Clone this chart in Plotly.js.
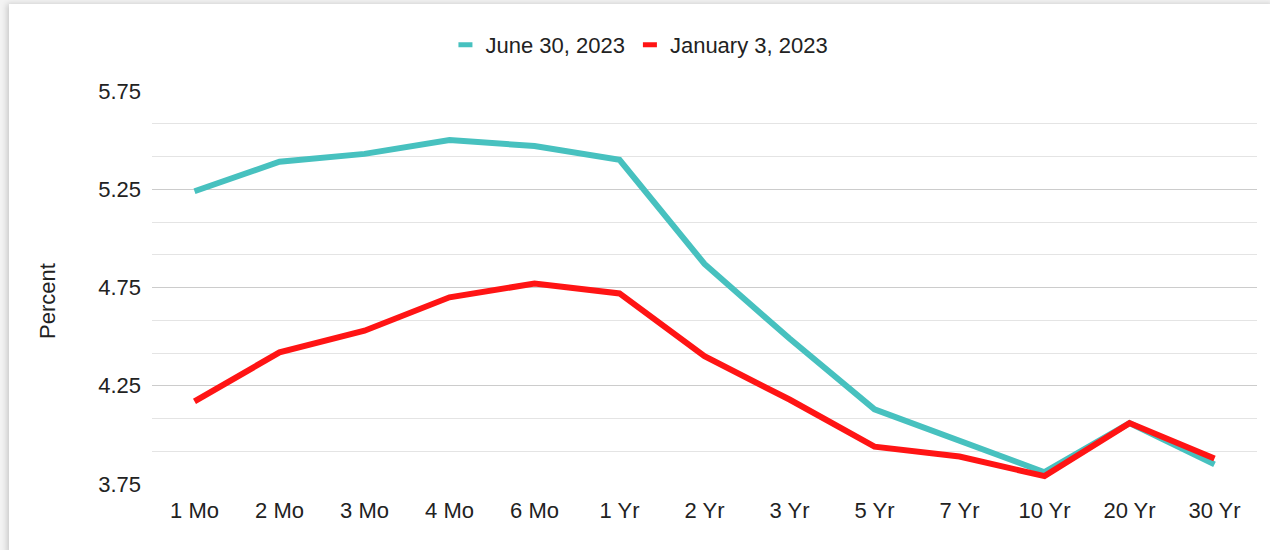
<!DOCTYPE html>
<html>
<head>
<meta charset="utf-8">
<script src="https://cdn.plot.ly/plotly-3.0.1.min.js"></script>
<style>
  html, body { margin: 0; padding: 0; background: #f3f3f3; width: 1270px; height: 550px; overflow: hidden; }
  #card { position: absolute; left: 9px; top: 4px; width: 1265px; height: 550px; background: #fff; box-shadow: -2px 0 6px rgba(0,0,0,0.18); }
  #chart { position: absolute; left: 0; top: 0; width: 1270px; height: 550px; }
</style>
</head>
<body>
<div id="card"></div>
<div id="chart"></div>
<script>
const maturities = ["1 Mo", "2 Mo", "3 Mo", "4 Mo", "6 Mo", "1 Yr", "2 Yr", "3 Yr", "5 Yr", "7 Yr", "10 Yr", "20 Yr", "30 Yr"];
const june30_2023 = [5.24, 5.39, 5.43, 5.50, 5.47, 5.40, 4.87, 4.49, 4.13, 3.97, 3.81, 4.06, 3.85];
const jan3_2023 = [4.17, 4.42, 4.53, 4.70, 4.77, 4.72, 4.40, 4.18, 3.94, 3.89, 3.79, 4.06, 3.88];
const seriesNames = ["June 30, 2023", "January 3, 2023"];
const yTickVals = [3.75, 4.25, 4.75, 5.25, 5.75];
const yTickText = ["3.75", "4.25", "4.75", "5.25", "5.75"];

const teal = "#47C1BF";
const red = "#FF1414";
const font = "Liberation Sans, Arial, sans-serif";

const traces = [
  { x: maturities, y: june30_2023, name: seriesNames[0], type: "scatter", mode: "lines",
    line: { color: teal, width: 6 }, showlegend: false, hoverinfo: "x+y" },
  { x: maturities, y: jan3_2023, name: seriesNames[1], type: "scatter", mode: "lines",
    line: { color: red, width: 6 }, showlegend: false, hoverinfo: "x+y" },
  { x: [null], y: [null], name: seriesNames[0], type: "scatter", mode: "markers",
    marker: { symbol: "line-ew", size: 10, color: teal, line: { color: teal, width: 6 } } },
  { x: [null], y: [null], name: seriesNames[1], type: "scatter", mode: "markers",
    marker: { symbol: "line-ew", size: 10, color: red, line: { color: red, width: 6 } } }
];

const layout = {
  width: 1270, height: 550,
  margin: { l: 152, r: 13, t: 91, b: 66 },
  paper_bgcolor: "rgba(0,0,0,0)",
  plot_bgcolor: "rgba(0,0,0,0)",
  font: { family: font, size: 22, color: "#222" },
  showlegend: true,
  legend: {
    orientation: "h", xref: "container", yref: "container",
    x: 0.5035, xanchor: "center", y: 1 - 45/550, yanchor: "middle",
    font: { family: font, size: 22, color: "#222" },
    bgcolor: "rgba(0,0,0,0)", itemclick: false
  },
  xaxis: {
    type: "category", categoryorder: "array", categoryarray: maturities,
    range: [-0.5, 12.5], showgrid: false, zeroline: false, showline: false,
    ticks: "", ticklabelstandoff: 11,
    tickfont: { family: font, size: 22, color: "#222" }
  },
  yaxis: {
    range: [3.75, 5.75], tickmode: "array", tickvals: yTickVals, ticktext: yTickText,
    showgrid: true, gridcolor: "#cccccc", gridwidth: 1.4,
    zeroline: false, showline: false, ticks: "", ticklabelstandoff: 10,
    tickfont: { family: font, size: 22, color: "#222" },
    minor: { tickmode: "linear", tick0: 3.75, dtick: 0.5/3, showgrid: true, gridcolor: "#e4e4e4", gridwidth: 1 }
  },
  annotations: [{
    text: "Percent", xref: "paper", yref: "paper", x: -105/1105, y: (484-301)/393,
    xanchor: "center", yanchor: "middle", textangle: -90, showarrow: false,
    font: { family: font, size: 22, color: "#222" }
  }]
};

Plotly.newPlot("chart", traces, layout, { displayModeBar: false, staticPlot: true });
</script>
</body>
</html>
